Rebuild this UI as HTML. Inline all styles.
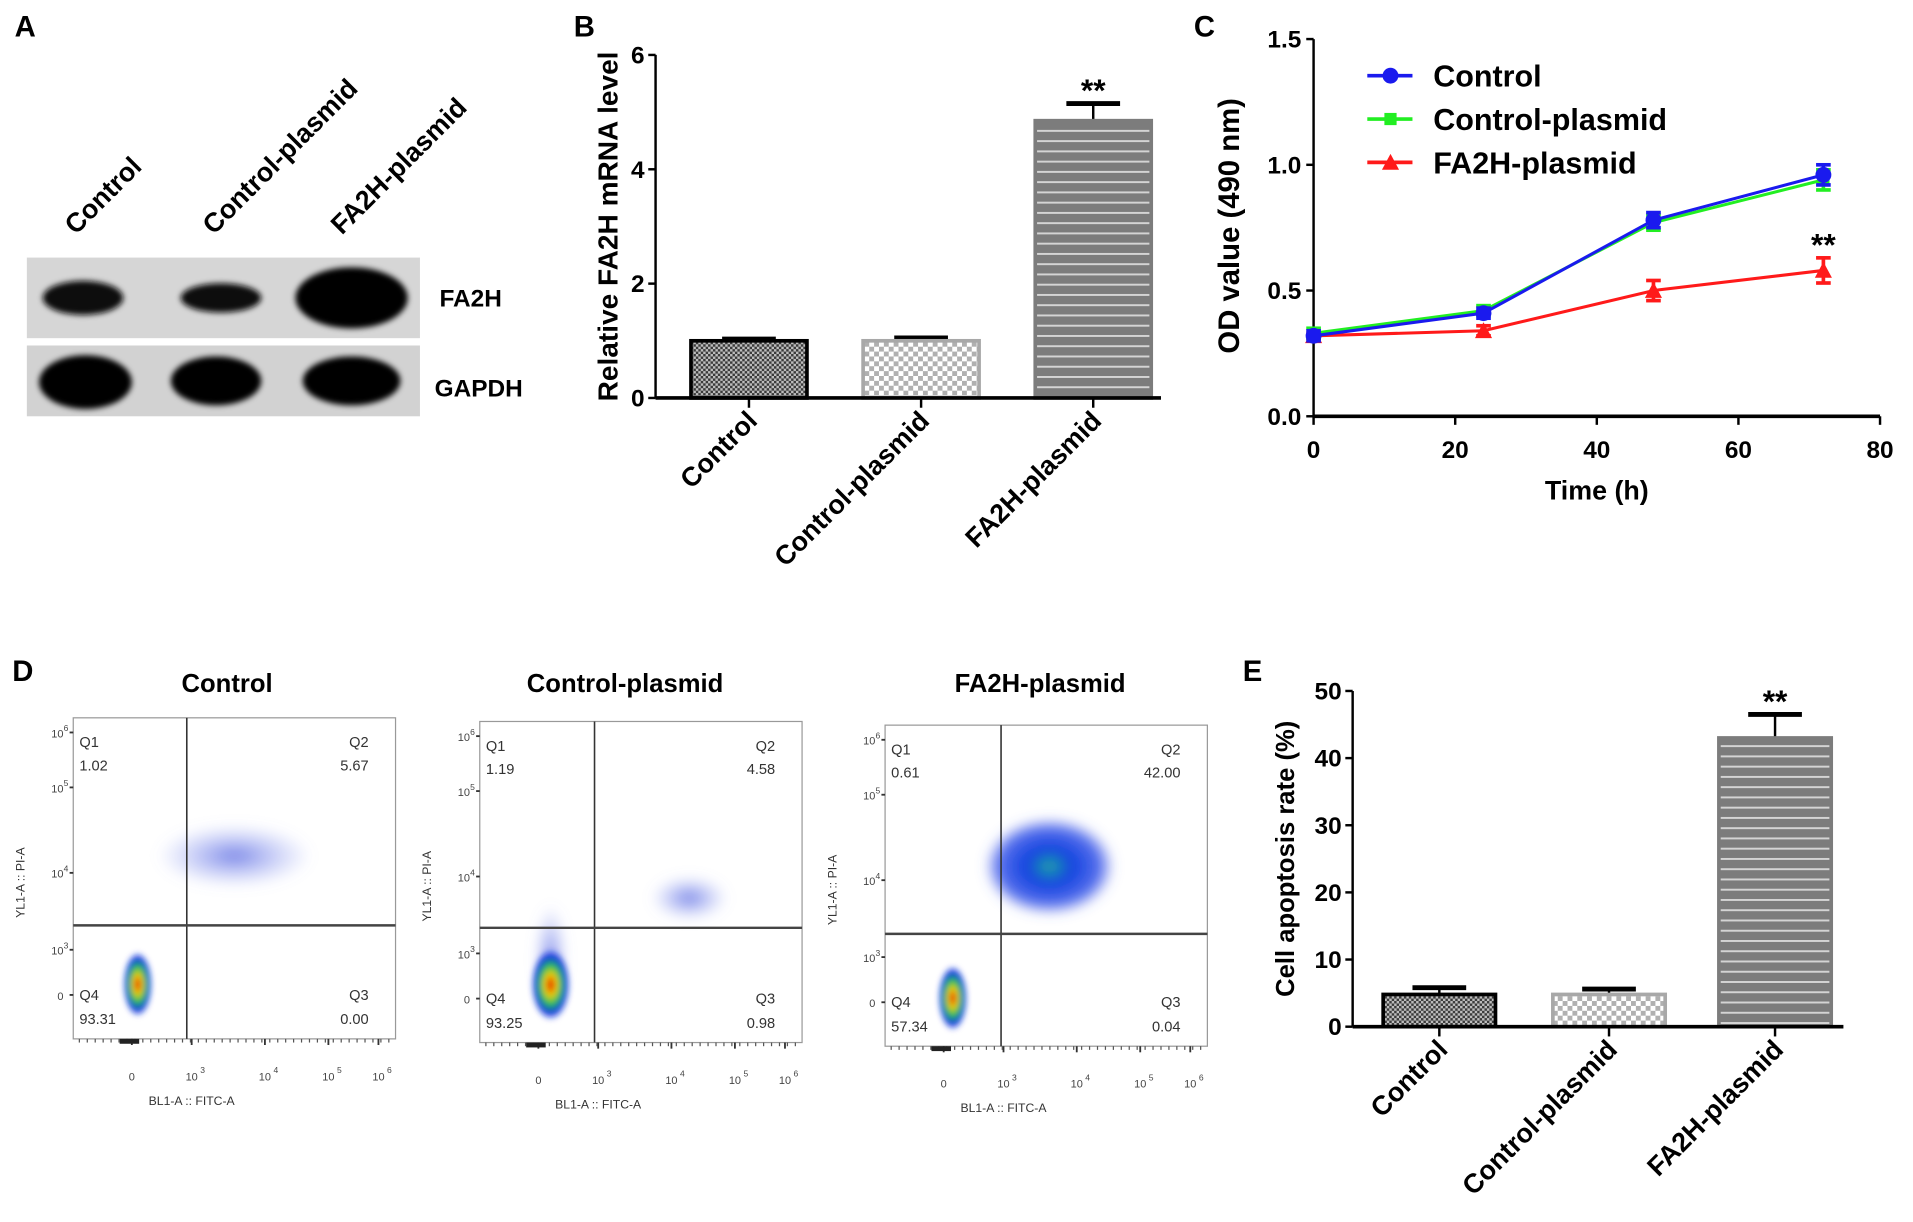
<!DOCTYPE html>
<html><head><meta charset="utf-8">
<style>
html,body{margin:0;padding:0;background:#fff;}
svg{display:block;}
text{font-family:"Liberation Sans",Arial,sans-serif;}
</style></head>
<body>
<svg id="fig" width="1913" height="1222" viewBox="0 0 1567 1001" preserveAspectRatio="none" xmlns="http://www.w3.org/2000/svg">
<defs>
  <pattern id="patDark" width="4" height="4" patternUnits="userSpaceOnUse">
    <rect width="4" height="4" fill="#3a3a3a"/><rect x="0" y="0" width="2" height="2" fill="#bdbdbd"/><rect x="2" y="2" width="2" height="2" fill="#bdbdbd"/>
  </pattern>
  <pattern id="patLight" width="8" height="8" patternUnits="userSpaceOnUse">
    <rect width="8" height="8" fill="#b0b0b0"/><rect x="0" y="0" width="4" height="4" fill="#fff"/><rect x="4" y="4" width="4" height="4" fill="#fff"/>
  </pattern>
  <pattern id="patStripe" width="10" height="8.4" patternUnits="userSpaceOnUse">
    <rect width="10" height="8.4" fill="#7c7c7c"/><rect y="5.6" width="10" height="1.6" fill="#d4d4d4"/>
  </pattern>
  <filter id="blur6" x="-50%" y="-50%" width="200%" height="200%"><feGaussianBlur stdDeviation="5"/></filter>
  <filter id="blur3" x="-50%" y="-50%" width="200%" height="200%"><feGaussianBlur stdDeviation="2.5"/></filter>
  <radialGradient id="gCore"><stop offset="0" stop-color="#e00000"/><stop offset="0.3" stop-color="#f0d000"/><stop offset="0.55" stop-color="#20c060"/><stop offset="0.8" stop-color="#1030e0"/><stop offset="1" stop-color="#1030e0" stop-opacity="0"/></radialGradient>
  <radialGradient id="gCloud"><stop offset="0" stop-color="#5060e0" stop-opacity="0.75"/><stop offset="1" stop-color="#8090f0" stop-opacity="0"/></radialGradient>
  <radialGradient id="gDense"><stop offset="0" stop-color="#20b0a0"/><stop offset="0.35" stop-color="#1040e0"/><stop offset="0.8" stop-color="#3050e8" stop-opacity="0.8"/><stop offset="1" stop-color="#6070f0" stop-opacity="0"/></radialGradient>
</defs>

<!-- Panel A -->
<g>
  <text x="12" y="30" font-size="24" font-weight="bold">A</text>
  <text transform="translate(62,193) rotate(-45)" font-size="22" font-weight="bold">Control</text>
  <text transform="translate(175,193) rotate(-45)" font-size="22" font-weight="bold">Control-plasmid</text>
  <text transform="translate(280,193) rotate(-45)" font-size="22" font-weight="bold">FA2H-plasmid</text>
  <rect x="22" y="211" width="322" height="66" fill="#d6d6d6"/>
  <rect x="22" y="283" width="322" height="58" fill="#d2d2d2"/>
  <g filter="url(#blur3)">
    <ellipse cx="68" cy="244" rx="33" ry="14" fill="#111"/>
    <ellipse cx="181" cy="244" rx="33" ry="12" fill="#111"/>
    <ellipse cx="288" cy="244" rx="46" ry="25" fill="#050505"/>
    <ellipse cx="70" cy="313" rx="38" ry="22" fill="#050505"/>
    <ellipse cx="177" cy="312" rx="37" ry="20" fill="#050505"/>
    <ellipse cx="288" cy="312" rx="40" ry="20" fill="#050505"/>
  </g>
  <text x="360" y="251" font-size="20" font-weight="bold">FA2H</text>
  <text x="356" y="325" font-size="20" font-weight="bold">GAPDH</text>
</g>

<g id="panelB"></g>
<g id="panelC"></g>
<g id="panelD"></g>
<g id="panelE"></g>
</svg>

<script>
const NS='http://www.w3.org/2000/svg';
function mk(parent,tag,attrs,txt){const e=document.createElementNS(NS,tag);for(const k in attrs)e.setAttribute(k,attrs[k]);if(txt!==undefined)e.textContent=txt;parent.appendChild(e);return e;}

/* ---------- Panel B data ---------- */
const bCategories=['Control','Control-plasmid','FA2H-plasmid'];
const bValues=[1.0,1.0,4.85];
const bErrors=[0.03,0.05,0.3];
const bTicks=[0,2,4,6];
/* ---------- Panel C data ---------- */
const cTimes=[0,24,48,72];
const cControl=[0.32,0.41,0.78,0.96];
const cControlPlasmid=[0.33,0.42,0.77,0.94];
const cFA2H=[0.32,0.34,0.50,0.58];
const cErrControl=[0.02,0.02,0.03,0.04];
const cErrControlPlasmid=[0.02,0.02,0.03,0.04];
const cErrFA2H=[0.01,0.02,0.04,0.05];
const cYTicks=['0.0','0.5','1.0','1.5'];
const cXTicks=[0,20,40,60,80];
/* ---------- Panel D data ---------- */
const dTitles=['Control','Control-plasmid','FA2H-plasmid'];
const dQ1=['1.02','1.19','0.61'];
const dQ2=['5.67','4.58','42.00'];
const dQ3=['0.00','0.98','0.04'];
const dQ4=['93.31','93.25','57.34'];
// clusters: [fx, fy, frx, fry, type] as fractions of plot area
const dClustersControl=[[0.2,0.83,0.045,0.1,'core'],[0.5,0.43,0.24,0.1,'cloud']];
const dClustersControlPlasmid=[[0.22,0.74,0.05,0.17,'cloud'],[0.22,0.82,0.06,0.11,'core'],[0.65,0.55,0.12,0.07,'cloud']];
const dClustersFA2H=[[0.21,0.85,0.045,0.1,'core'],[0.51,0.44,0.2,0.15,'dense']];
/* ---------- Panel E data ---------- */
const eCategories=['Control','Control-plasmid','FA2H-plasmid'];
const eValues=[4.8,4.8,43];
const eErrors=[1.0,0.8,3.5];
const eTicks=[0,10,20,30,40,50];

const fills=['url(#patDark)','url(#patLight)','url(#patStripe)'];
const strokes=['#000','#a8a8a8','#7c7c7c'];

function barChart(g,opt){
  const {x0,x1,yTop,yBot,vmax,cats,vals,errs,ticks,barX,barW,title,titleX,titleFs,label,labelX,labelY}=opt;
  const ys=v=>yBot-(v/vmax)*(yBot-yTop);
  mk(g,'text',{x:labelX,y:labelY,'font-size':24,'font-weight':'bold',},label);
  mk(g,'line',{x1:x0,y1:yTop,x2:x0,y2:yBot,stroke:'#000','stroke-width':2,});
  ticks.forEach(t=>{
    mk(g,'line',{x1:x0-6,y1:ys(t),x2:x0,y2:ys(t),stroke:'#000','stroke-width':2,});
    mk(g,'text',{x:x0-9,y:ys(t)+7,'font-size':20,'font-weight':'bold','text-anchor':'end',},String(t));
  });
  mk(g,'text',{transform:`translate(${titleX},${(yTop+yBot)/2}) rotate(-90)`,'font-size':titleFs,'font-weight':'bold','text-anchor':'middle',},title);
  cats.forEach((c,i)=>{
    const bx=barX[i],cx=bx+barW/2,top=ys(vals[i]);
    const eTop=ys(vals[i]+errs[i]);
    mk(g,'line',{x1:cx,y1:eTop,x2:cx,y2:top,stroke:'#000','stroke-width':2,});
    mk(g,'line',{x1:cx-22,y1:eTop,x2:cx+22,y2:eTop,stroke:'#000','stroke-width':4,});
    mk(g,'rect',{x:bx,y:top,width:barW,height:yBot-top,fill:fills[i],stroke:strokes[i],'stroke-width':3,});
    mk(g,'line',{x1:cx,y1:yBot,x2:cx,y2:yBot+8,stroke:'#000','stroke-width':2,});
    mk(g,'text',{transform:`translate(${cx+8},${yBot+20}) rotate(-45)`,'font-size':22,'font-weight':'bold','text-anchor':'end',},c);
  });
  mk(g,'line',{x1:x0,y1:yBot,x2:x1,y2:yBot,stroke:'#000','stroke-width':3,});
  const i=2;
  mk(g,'text',{x:barX[i]+barW/2,y:ys(vals[i]+errs[i])-2,'font-size':26,'font-weight':'bold','text-anchor':'middle',},'**');
}

barChart(document.getElementById('panelB'),{x0:537,x1:951,yTop:45,yBot:326,vmax:6,cats:bCategories,vals:bValues,errs:bErrors,ticks:bTicks,barX:[566,707,848],barW:95,title:'Relative FA2H mRNA level',titleX:506,titleFs:23,label:'B',labelX:470,labelY:30});
barChart(document.getElementById('panelE'),{x0:1108,x1:1510,yTop:566,yBot:841,vmax:50,cats:eCategories,vals:eValues,errs:eErrors,ticks:eTicks,barX:[1133,1272,1408],barW:92,title:'Cell apoptosis rate (%)',titleX:1060,titleFs:21,label:'E',labelX:1018,labelY:558});

/* ---------- Panel C ---------- */
(function(){
  const g=document.getElementById('panelC');
  const X0=1076,X1=1540,Y0=341,Y1=32;
  const xs=v=>X0+v/80*(X1-X0), ys=v=>Y0-v/1.5*(Y0-Y1);
  mk(g,'text',{x:978,y:30,'font-size':24,'font-weight':'bold',},'C');
  mk(g,'line',{x1:X0,y1:Y1,x2:X0,y2:Y0,stroke:'#000','stroke-width':2,});
  mk(g,'line',{x1:X0,y1:Y0,x2:X1,y2:Y0,stroke:'#000','stroke-width':3,});
  cYTicks.forEach(t=>{const y=ys(parseFloat(t));
    mk(g,'line',{x1:X0-6,y1:y,x2:X0,y2:y,stroke:'#000','stroke-width':2,});
    mk(g,'text',{x:X0-10,y:y+7,'font-size':20,'font-weight':'bold','text-anchor':'end',},t);});
  cXTicks.forEach(t=>{const x=xs(t);
    mk(g,'line',{x1:x,y1:Y0,x2:x,y2:Y0+7,stroke:'#000','stroke-width':2,});
    mk(g,'text',{x:x,y:Y0+34,'font-size':20,'font-weight':'bold','text-anchor':'middle',},String(t));});
  mk(g,'text',{x:1308,y:409,'font-size':22,'font-weight':'bold','text-anchor':'middle',},'Time (h)');
  mk(g,'text',{transform:'translate(1015,185) rotate(-90)','font-size':24,'font-weight':'bold','text-anchor':'middle',},'OD value (490 nm)');
  const series=[[cFA2H,cErrFA2H,'#ff1a1a','tri','fa2h-plasmid'],[cControlPlasmid,cErrControlPlasmid,'#22ee22','sq','control-plasmid'],[cControl,cErrControl,'#1a1aee','circ','control']];
  function marker(gg,x,y,col,type){
    if(type==='circ')mk(gg,'circle',{cx:x,cy:y,r:6.5,fill:col,});
    else if(type==='sq')mk(gg,'rect',{x:x-5,y:y-5,width:10,height:10,fill:col,});
    else mk(gg,'polygon',{points:`${x},${y-7} ${x+7},${y+6} ${x-7},${y+6}`,fill:col,});
  }
  series.forEach(([vals,errs,col,type,nm])=>{
    const sg=mk(g,'g',{});
    mk(sg,'polyline',{points:vals.map((v,i)=>xs(cTimes[i])+','+ys(v)).join(' '),fill:'none',stroke:col,'stroke-width':2.5,});
    vals.forEach((v,i)=>{const x=xs(cTimes[i]);
      mk(sg,'line',{x1:x,y1:ys(v+errs[i]),x2:x,y2:ys(v-errs[i]),stroke:col,'stroke-width':3,});
      mk(sg,'line',{x1:x-6,y1:ys(v+errs[i]),x2:x+6,y2:ys(v+errs[i]),stroke:col,'stroke-width':3,});
      mk(sg,'line',{x1:x-6,y1:ys(v-errs[i]),x2:x+6,y2:ys(v-errs[i]),stroke:col,'stroke-width':3,});
      marker(sg,x,ys(v),col,type);});
  });
  mk(g,'text',{x:xs(72),y:ys(cFA2H[3]+cErrFA2H[3])-2,'font-size':26,'font-weight':'bold','text-anchor':'middle',},'**');
  const leg=[['Control','#1a1aee','circ'],['Control-plasmid','#22ee22','sq'],['FA2H-plasmid','#ff1a1a','tri']];
  leg.forEach(([n,col,type],i)=>{const y=62+i*35.5;
    const lg=mk(g,'g',{});
    mk(lg,'line',{x1:1120,y1:y,x2:1157,y2:y,stroke:col,'stroke-width':3,});
    marker(lg,1139,y,col,type);
    mk(lg,'text',{x:1174,y:y+9,'font-size':25,'font-weight':'bold',},n);});
})();

/* ---------- Panel D ---------- */
(function(){
  const g=document.getElementById('panelD');
  mk(g,'text',{x:10,y:558,'font-size':24,'font-weight':'bold',},'D');
  const plots=[{x:60,y:588,gx:153,gy:758,tx:186,cl:dClustersControl},{x:393,y:591,gx:487,gy:760,tx:512,cl:dClustersControlPlasmid},{x:725,y:594,gx:820,gy:765,tx:852,cl:dClustersFA2H}];
  const W=264,H=263;
  plots.forEach((p,k)=>{
    const pg=mk(g,'g',{});
    mk(pg,'text',{x:p.tx,y:567,'font-size':21,'font-weight':'bold','text-anchor':'middle',},dTitles[k]);
    mk(pg,'rect',{x:p.x,y:p.y,width:W,height:H,fill:'#fff',stroke:'#999','stroke-width':1,});
    p.cl.forEach(c=>{
      const cx=p.x+c[0]*W,cy=p.y+c[1]*H,rx=c[2]*W,ry=c[3]*H;
      const fill=c[4]==='core'?'url(#gCore)':(c[4]==='dense'?'url(#gDense)':'url(#gCloud)');
      mk(pg,'ellipse',{cx:cx,cy:cy,rx:rx,ry:ry,fill:fill,filter:c[4]==='core'?'url(#blur3)':'url(#blur6)',});
    });
    mk(pg,'line',{x1:p.gx,y1:p.y,x2:p.gx,y2:p.y+H,stroke:'#333','stroke-width':1.3,});
    mk(pg,'line',{x1:p.x,y1:p.gy,x2:p.x+W,y2:p.gy,stroke:'#444','stroke-width':2,});
    const fs=12;
    mk(pg,'text',{x:p.x+5,y:p.y+24,'font-size':fs,fill:'#333',},'Q1');
    mk(pg,'text',{x:p.x+5,y:p.y+43,'font-size':fs,fill:'#333',},dQ1[k]);
    mk(pg,'text',{x:p.x+W-22,y:p.y+24,'font-size':fs,fill:'#333','text-anchor':'end',},'Q2');
    mk(pg,'text',{x:p.x+W-22,y:p.y+43,'font-size':fs,fill:'#333','text-anchor':'end',},dQ2[k]);
    mk(pg,'text',{x:p.x+5,y:p.y+231,'font-size':fs,fill:'#333',},'Q4');
    mk(pg,'text',{x:p.x+5,y:p.y+251,'font-size':fs,fill:'#333',},dQ4[k]);
    mk(pg,'text',{x:p.x+W-22,y:p.y+231,'font-size':fs,fill:'#333','text-anchor':'end',},'Q3');
    mk(pg,'text',{x:p.x+W-22,y:p.y+251,'font-size':fs,fill:'#333','text-anchor':'end',},dQ3[k]);
    const yl=[['10','6',12],['10','5',57],['10','4',127],['10','3',190],['0','',227]];
    yl.forEach(([b,e,dy])=>{
      mk(pg,'text',{x:p.x-8,y:p.y+dy+4,'font-size':9,fill:'#444','text-anchor':'end',},b);
      if(e)mk(pg,'text',{x:p.x-4,y:p.y+dy-1,'font-size':7,fill:'#444','text-anchor':'end',},e);
      mk(pg,'line',{x1:p.x-3,y1:p.y+dy,x2:p.x,y2:p.y+dy,stroke:'#333','stroke-width':1.5,});
    });
    const xl=[['0','',48],['10','3',97],['10','4',157],['10','5',209],['10','6',250]];
    xl.forEach(([b,e,dx])=>{
      mk(pg,'text',{x:p.x+dx,y:p.y+H+34,'font-size':9,fill:'#444','text-anchor':'middle',},b);
      if(e)mk(pg,'text',{x:p.x+dx+7,y:p.y+H+28,'font-size':7,fill:'#444',},e);
      mk(pg,'line',{x1:p.x+dx,y1:p.y+H,x2:p.x+dx,y2:p.y+H+5,stroke:'#333','stroke-width':1.5,});
    });
    for(let t=0;t<40;t++){
      mk(pg,'line',{x1:p.x+5+t*6.5,y1:p.y+H,x2:p.x+5+t*6.5,y2:p.y+H+3,stroke:'#555','stroke-width':1,});
    }
    mk(pg,'rect',{x:p.x+38,y:p.y+H,width:16,height:4,fill:'#222',});
    mk(pg,'text',{x:p.x+W/2-35,y:p.y+H+54,'font-size':10,fill:'#333','text-anchor':'middle',},'BL1-A :: FITC-A');
    mk(pg,'text',{transform:`translate(${p.x-40},${p.y+135}) rotate(-90)`,'font-size':10,fill:'#333','text-anchor':'middle',},'YL1-A :: PI-A');
  });
})();
</script>
</body></html>
